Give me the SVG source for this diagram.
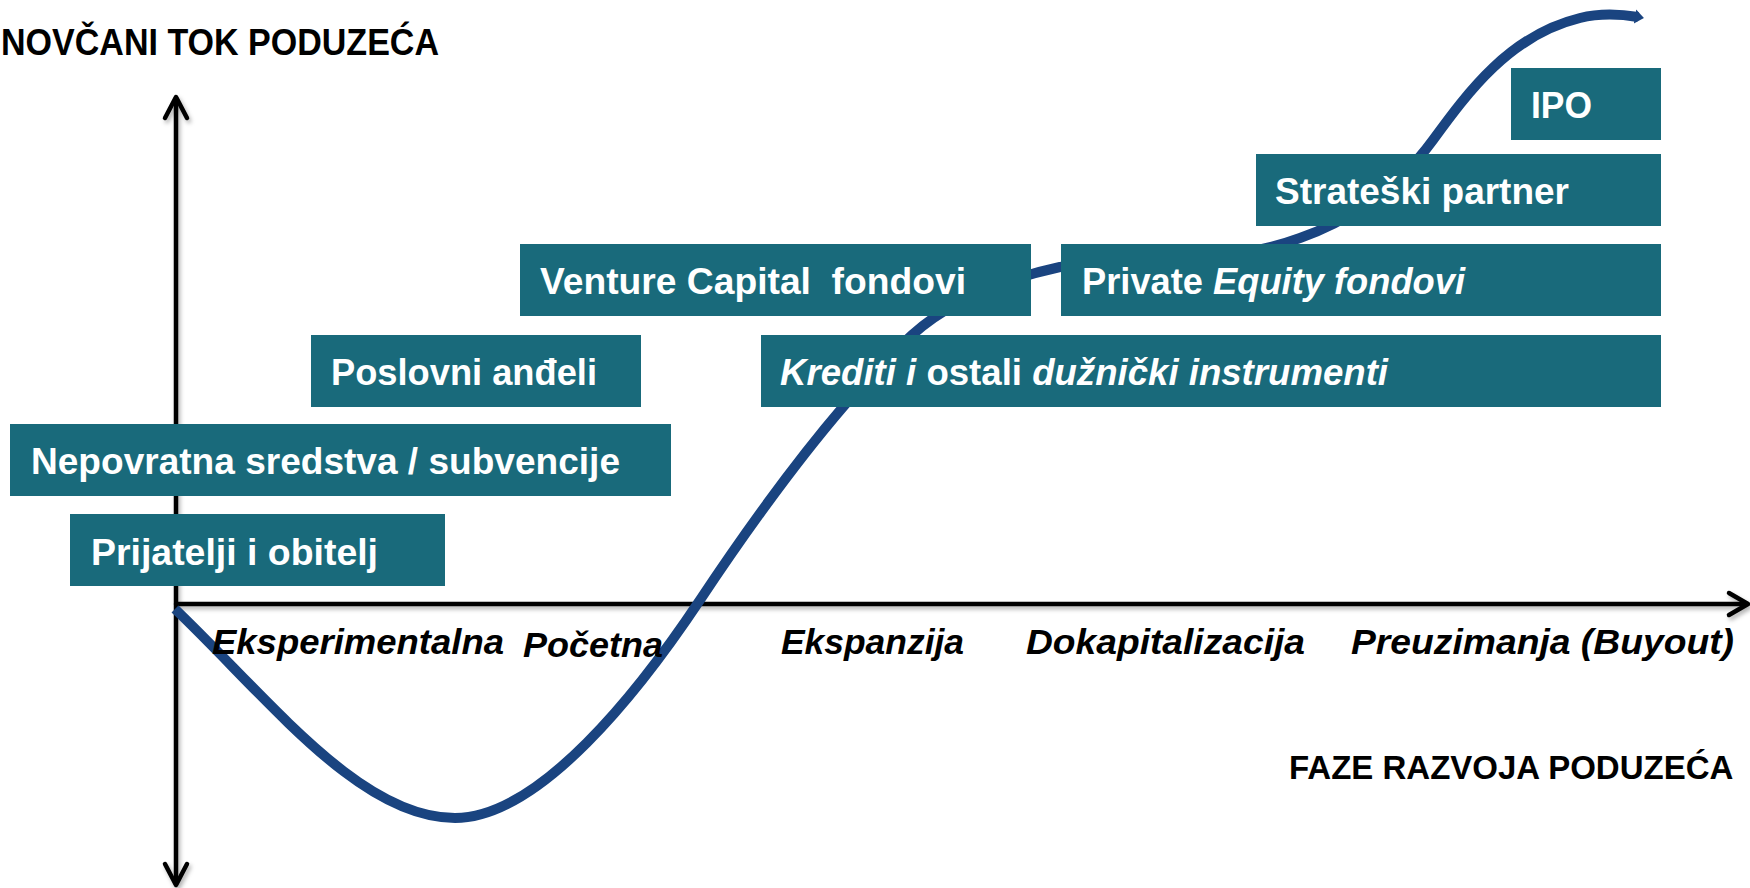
<svg xmlns="http://www.w3.org/2000/svg" width="1750" height="888" viewBox="0 0 1750 888">
<style>
.box{fill:#196a7b}
.bt{font-family:"Liberation Sans",Arial,sans-serif;font-weight:bold;font-size:37px;fill:#ffffff}
.it{font-style:italic}
.ax{stroke:#000;stroke-width:4.5;fill:none;stroke-linecap:round;stroke-linejoin:round}
.stage{font-family:"Liberation Sans",Arial,sans-serif;font-weight:bold;font-style:italic;font-size:35px;fill:#000}
.title{font-family:"Liberation Sans",Arial,sans-serif;font-weight:bold;font-size:37px;fill:#000}
</style>
<defs>
<filter id="sh" x="-5%" y="-5%" width="110%" height="110%">
<feDropShadow dx="2" dy="3" stdDeviation="2" flood-color="#000" flood-opacity="0.3"/>
</filter>
<marker id="cend" markerUnits="userSpaceOnUse" markerWidth="20" markerHeight="20" refX="3" refY="8" orient="auto">
<path d="M0,1 L9,8 L0,15 Z" fill="#1a4480"/>
</marker>
</defs>
<rect width="1750" height="888" fill="#fff"/>
<text class="title" x="1" y="55" textLength="438" lengthAdjust="spacingAndGlyphs">NOVČANI TOK PODUZEĆA</text>
<text class="title" x="1289" y="779" style="font-size:33px">FAZE RAZVOJA PODUZEĆA</text>
<g id="connectors">
<g filter="url(#sh)">
<path class="ax" d="M176,98 L176,884"/>
<path class="ax" d="M165,118 L176,97 L187,118"/>
<path class="ax" d="M165,864 L176,885 L187,864"/>
<path class="ax" d="M176,604 L1747,604"/>
<path class="ax" d="M1729,593 L1748,604 L1729,615"/>
</g>
<path id="curve" d="M175,609 C270,700 360,818 455,818 C540,818 640,690 700,600 C760,510 840,400 912,335 C950,301 1000,280 1060,267 C1140,254 1225,266 1300,238 C1340,224 1393,195 1433,140 C1468,92 1510,35 1580,18 C1600,13 1620,14 1638,17" fill="none" stroke="#1a4480" stroke-width="10" marker-end="url(#cend)"/>
</g>
<g id="stages">
<text class="stage" x="212" y="654" textLength="292" lengthAdjust="spacingAndGlyphs">Eksperimentalna</text>
<text class="stage" x="523" y="657" textLength="140" lengthAdjust="spacingAndGlyphs">Početna</text>
<text class="stage" x="781" y="654" textLength="183" lengthAdjust="spacingAndGlyphs">Ekspanzija</text>
<text class="stage" x="1026" y="654" textLength="279" lengthAdjust="spacingAndGlyphs">Dokapitalizacija</text>
<text class="stage" x="1351" y="654" textLength="383" lengthAdjust="spacingAndGlyphs">Preuzimanja (Buyout)</text>
</g>
<g id="n_ipo"><rect class="box" x="1511" y="68" width="150" height="72"/><text class="bt" x="1531" y="118" textLength="61" lengthAdjust="spacingAndGlyphs">IPO</text></g>
<g id="n_strateski"><rect class="box" x="1256" y="154" width="405" height="72"/><text class="bt" x="1275" y="204" textLength="294" lengthAdjust="spacingAndGlyphs">Strateški partner</text></g>
<g id="n_private"><rect class="box" x="1061" y="244" width="600" height="72"/><text class="bt" x="1082" y="294" textLength="383" lengthAdjust="spacingAndGlyphs">Private <tspan class="it">Equity fondovi</tspan></text></g>
<g id="n_venture"><rect class="box" x="520" y="244" width="511" height="72"/><text class="bt" x="540" y="294" textLength="426" lengthAdjust="spacingAndGlyphs" xml:space="preserve">Venture Capital  fondovi</text></g>
<g id="n_poslovni"><rect class="box" x="311" y="335" width="330" height="72"/><text class="bt" x="331" y="385" textLength="266" lengthAdjust="spacingAndGlyphs">Poslovni anđeli</text></g>
<g id="n_krediti"><rect class="box" x="761" y="335" width="900" height="72"/><text class="bt" x="780" y="385" textLength="608" lengthAdjust="spacingAndGlyphs"><tspan class="it">Krediti i </tspan>ostali <tspan class="it">dužnički instrumenti</tspan></text></g>
<g id="n_nepovratna"><rect class="box" x="10" y="424" width="661" height="72"/><text class="bt" x="31" y="474" textLength="589" lengthAdjust="spacingAndGlyphs">Nepovratna sredstva / subvencije</text></g>
<g id="n_prijatelji"><rect class="box" x="70" y="514" width="375" height="72"/><text class="bt" x="91" y="565" textLength="287" lengthAdjust="spacingAndGlyphs">Prijatelji i obitelj</text></g>
</svg>
